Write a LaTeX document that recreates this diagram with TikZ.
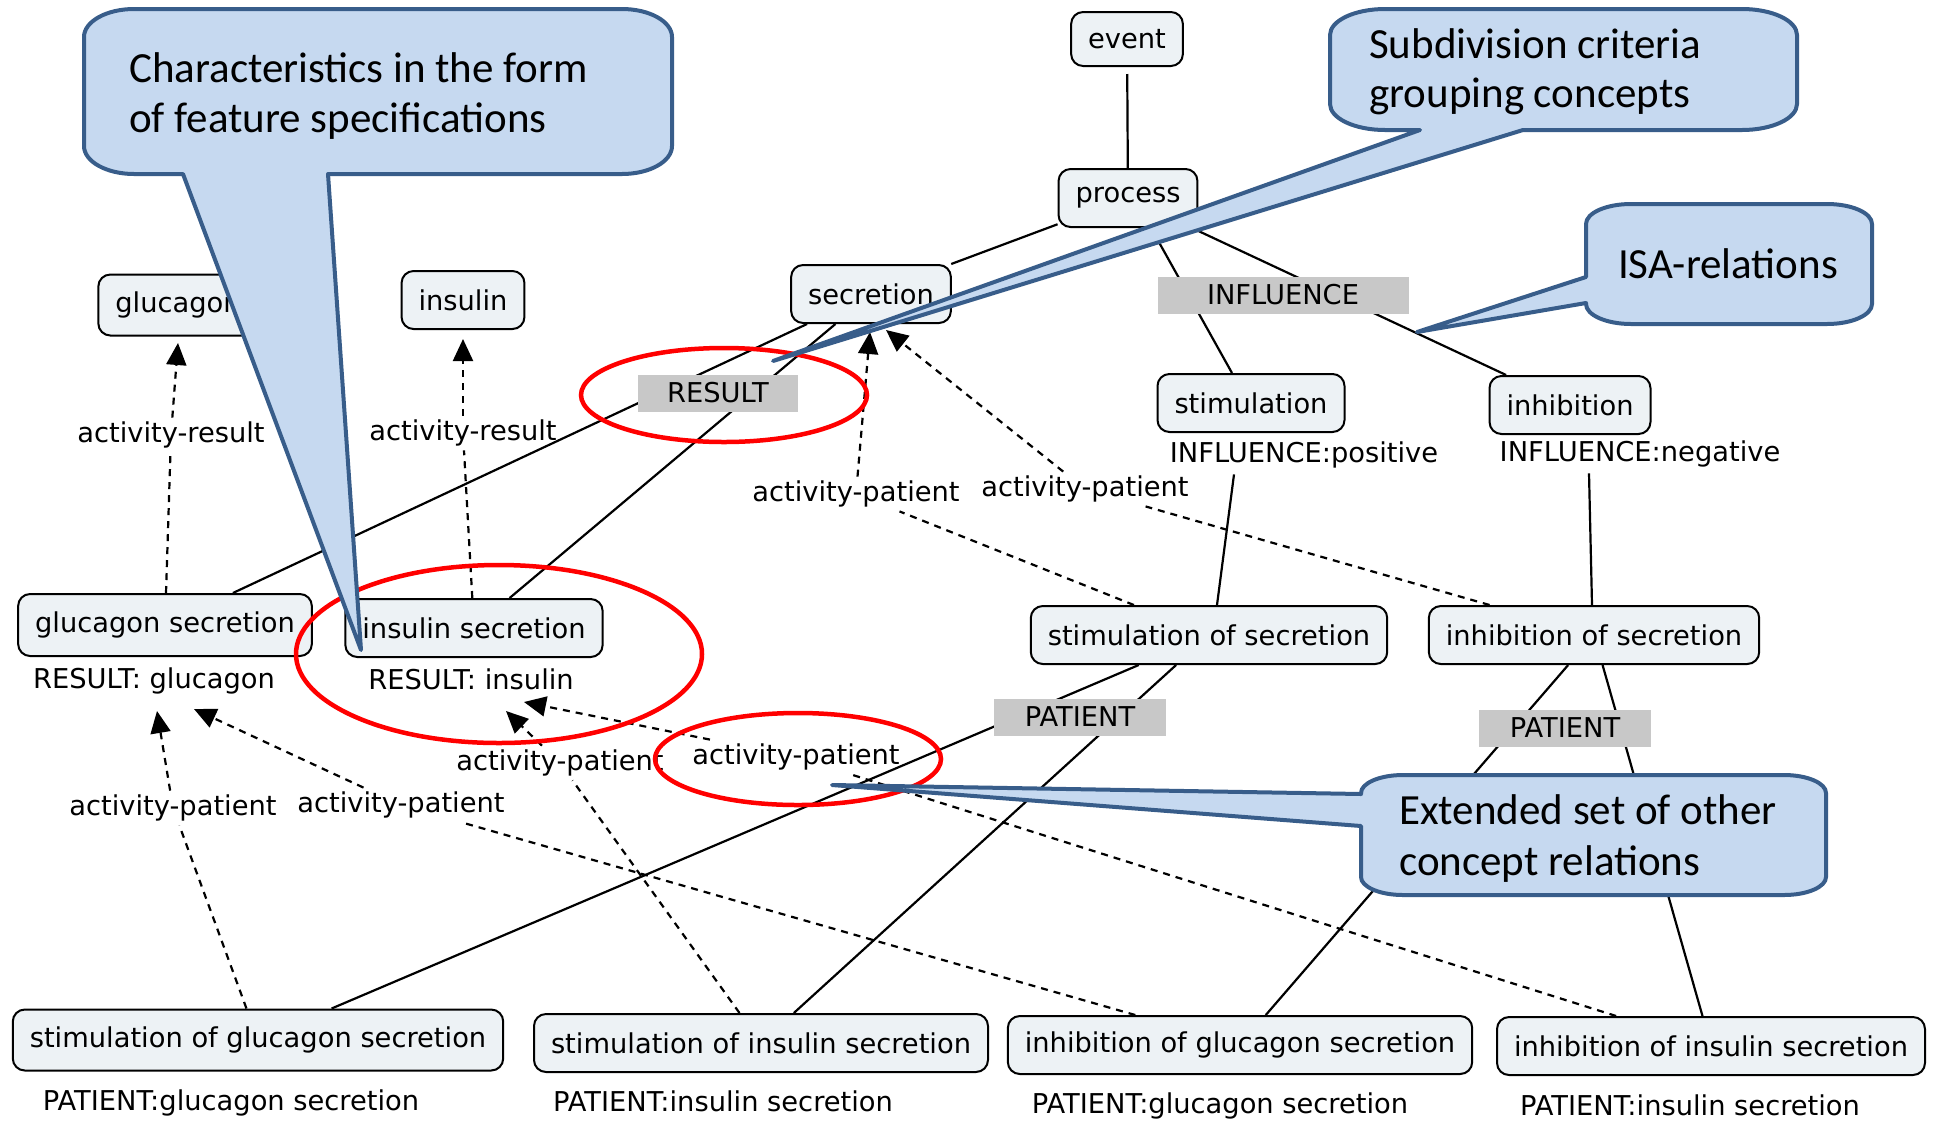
\documentclass[tikz,border=0pt]{standalone}
\usepackage{fontspec}
\setmainfont{DejaVu Sans}
\newfontfamily\calfont{Carlito}
\usetikzlibrary{arrows.meta,calc}
\definecolor{nodefill}{RGB}{237,242,245}
\definecolor{labgray}{RGB}{200,200,200}
\definecolor{calloutFill}{RGB}{198,217,240}
\definecolor{calloutLine}{RGB}{56,93,138}
\pgfdeclarelayer{bg}
\pgfsetlayers{bg,main}
\begin{document}
\begin{tikzpicture}[x=1pt,y=-1pt,
  every node/.style={font=\fontsize{27.3}{32}\selectfont},
  concept/.style={draw=black, line width=2pt, rounded corners=12pt, fill=nodefill, inner xsep=17pt, inner ysep=0pt, minimum height=58pt},
  feat/.style={inner sep=2pt},
  crit/.style={fill=labgray, inner sep=0pt, minimum height=37pt},
  lab/.style={inner sep=4pt},
  isa/.style={line width=2.2pt},
  rel/.style={line width=2.2pt, dash pattern=on 7pt off 6pt},
  arr/.style={-{Triangle[length=22pt,width=20pt]}},
  ring/.style={draw=red, line width=4.5pt},
  cbox/.style={fill=calloutFill, draw=calloutLine, line width=4pt, line join=round},
  ctext/.style={font=\calfont\fontsize{43}{51}\selectfont, anchor=base west, inner sep=0pt}
]
\useasboundingbox (0,0) rectangle (1934,1120);

% concepts
\node[concept, minimum height=54pt] (event) at (1127,39) {event};
\node[concept] (process) at (1128,198) {process};
\node[concept] (sec) at (871,294) {secretion};
\node[concept, minimum height=61pt] (glu) at (178,305) {glucagon};
\node[concept] (ins) at (463,300) {insulin};
\node[concept, minimum height=62pt] (gs) at (165,625) {glucagon secretion};
\node[concept] (is) at (474,628) {insulin secretion};
\node[concept] (stim) at (1251,403) {stimulation};
\node[concept] (inh) at (1570,405) {inhibition};
\node[concept] (sos) at (1209,635) {stimulation of secretion};
\node[concept] (ios) at (1594,635) {inhibition of secretion};
\node[concept, minimum height=61pt] (sgs) at (258,1040) {stimulation of glucagon secretion};
\node[concept] (sis) at (761,1043) {stimulation of insulin secretion};
\node[concept] (igs) at (1240,1045) {inhibition of glucagon secretion};
\node[concept] (iis) at (1711,1046) {inhibition of insulin secretion};

% feature specifications
\node[feat] (rg) at (154,681) {RESULT: glucagon};
\node[feat] (ri) at (471,679) {RESULT: insulin};
\node[feat] (fpos) at (1304,455) {INFLUENCE:positive};
\node[feat] (fneg) at (1640,454) {INFLUENCE:negative};
\node[feat] (pt1) at (231,1103) {PATIENT:glucagon secretion};
\node[feat] (pt2) at (723,1101) {PATIENT:insulin secretion};
\node[feat] (pt3) at (1220,1106) {PATIENT:glucagon secretion};
\node[feat] (pt4) at (1690,1105) {PATIENT:insulin secretion};

% subdivision criteria
\node[crit, minimum width=251pt] (cINF) at (1283,295) {INFLUENCE};
\node[crit, minimum width=160pt] (cRES) at (718,393) {RESULT};
\node[crit, minimum width=172pt] (cPL) at (1080,717) {PATIENT};
\node[crit, minimum width=172pt] (cPR) at (1565,728) {PATIENT};

% relation labels
\node[lab] (lr1) at (171,435) {activity-result};
\node[lab] (lr2) at (463,433) {activity-result};
\node[lab] (lA) at (856,494) {activity-patient};
\node[lab] (lB) at (1085,489) {activity-patient};
\node[lab] (lC) at (173,808) {activity-patient};
\node[lab] (lD) at (401,805) {activity-patient};
\node[lab] (lE) at (560,763) {activity-patient};
\node[lab] (lF) at (796,757) {activity-patient};

% arrow tips
\coordinate (tGlu) at (178,343);
\coordinate (tIns) at (463,339);
\coordinate (tA) at (870,332);
\coordinate (tB) at (886,330);
\coordinate (tC) at (157,711);
\coordinate (tD) at (194,709);
\coordinate (tE) at (506,711);
\coordinate (tF) at (524,702);

\begin{pgfonlayer}{bg}
\fill[white] (0,0) rectangle (1934,1120);
% ISA links
\draw[isa, shorten <=7pt] (event) -- (process);
\draw[isa] (process) -- (sec);
\draw[isa] ($(process.south)+(23,0)$) -- ($(stim.north)+(-19,0)$);
\draw[isa] (process) -- (inh);
\draw[isa] (sec) -- (gs);
\draw[isa] (sec) -- (is);
\draw[isa] ($(fpos.south)+(-70,4)$) -- ($(sos.north)+(8,0)$);
\draw[isa] ($(fneg.south)+(-51,4)$) -- ($(ios.north)+(-2,0)$);
\draw[isa] (sos) -- (sgs);
\draw[isa] (sos) -- (sis);
\draw[isa] (ios) -- (igs);
\draw[isa] (ios) -- (iis);
% other relations
\draw[rel] (gs) -- (lr1);  \draw[rel,arr] (lr1) -- (tGlu);
\draw[rel] (is) -- (lr2);  \draw[rel,arr] (lr2) -- (tIns);
\draw[rel] (sos) -- (lA);  \draw[rel,arr] (lA) -- (tA);
\draw[rel] (ios) -- (lB);  \draw[rel,arr] (lB) -- (tB);
\draw[rel] (sgs) -- (lC);  \draw[rel,arr] (lC) -- (tC);
\draw[rel] (igs) -- (lD);  \draw[rel,arr] (lD) -- (tD);
\draw[rel] (sis) -- (lE);  \draw[rel,arr] (lE) -- (tE);
\draw[rel] (iis) -- (lF);  \draw[rel,arr] (lF) -- (tF);
\end{pgfonlayer}

% red rings
\draw[ring] (724,395) ellipse [x radius=143pt, y radius=47pt];
\draw[ring] (499,654) ellipse [x radius=203pt, y radius=89pt];
\draw[ring] (798,759) ellipse [x radius=143pt, y radius=46pt];

% callout 1
\draw[cbox] (134,9) -- (622,9) arc[start angle=90,end angle=0,x radius=50pt,y radius=28pt]
  -- (672,146) arc[start angle=0,end angle=-90,x radius=50pt,y radius=28pt]
  -- (328,174) -- (361,650) -- (183,174) -- (134,174)
  arc[start angle=-90,end angle=-180,x radius=50pt,y radius=28pt]
  -- (84,37) arc[start angle=180,end angle=90,x radius=50pt,y radius=28pt] -- cycle;
\node[ctext] (c1a) at (129,82) {Characteristics in the form};
\node[ctext] (c1b) at (129,132) {of feature specifications};

% callout 2
\draw[cbox] (1385,9) -- (1742,9) arc[start angle=90,end angle=0,x radius=55pt,y radius=26pt]
  -- (1797,104) arc[start angle=0,end angle=-90,x radius=55pt,y radius=26pt]
  -- (1523,130) -- (773,361) -- (1420,130) -- (1385,130)
  arc[start angle=-90,end angle=-180,x radius=55pt,y radius=26pt]
  -- (1330,35) arc[start angle=180,end angle=90,x radius=55pt,y radius=26pt] -- cycle;
\node[ctext] (c2a) at (1369,58) {Subdivision criteria};
\node[ctext] (c2b) at (1369,107) {grouping concepts};

% callout 3
\draw[cbox] (1631,204) -- (1827,204) arc[start angle=90,end angle=0,x radius=45pt,y radius=20pt]
  -- (1872,304) arc[start angle=0,end angle=-90,x radius=45pt,y radius=20pt]
  -- (1631,324) arc[start angle=-90,end angle=-180,x radius=45pt,y radius=20pt]
  -- (1586,303) -- (1417,332) -- (1586,277)
  -- (1586,224) arc[start angle=180,end angle=90,x radius=45pt,y radius=20pt] -- cycle;
\node[ctext, anchor=base] (c3) at (1728,278) {ISA-relations};

% callout 4
\draw[cbox] (1403,775) -- (1784,775) arc[start angle=90,end angle=0,x radius=42pt,y radius=18pt]
  -- (1826,877) arc[start angle=0,end angle=-90,x radius=42pt,y radius=18pt]
  -- (1403,895) arc[start angle=-90,end angle=-180,x radius=42pt,y radius=18pt]
  -- (1361,826) -- (832,785) -- (1361,794)
  -- (1361,793) arc[start angle=180,end angle=90,x radius=42pt,y radius=18pt] -- cycle;
\node[ctext] (c4a) at (1399,824) {Extended set of other};
\node[ctext] (c4b) at (1399,875) {concept relations};
\end{tikzpicture}
\end{document}
